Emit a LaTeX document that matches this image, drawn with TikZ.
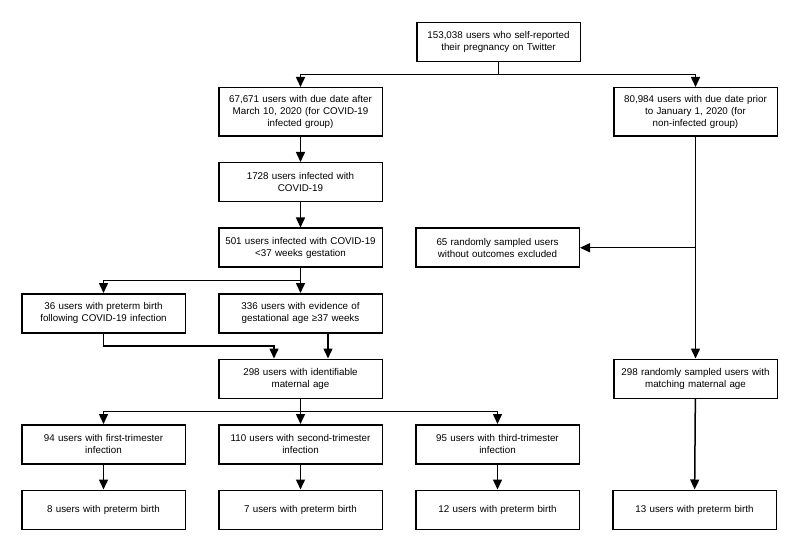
\documentclass[tikz,border=0pt]{standalone}
\usepackage{fontspec}
\setmainfont{Liberation Sans}
\usetikzlibrary{arrows.meta, positioning}

\begin{document}
\begin{tikzpicture}[x=1pt, y=-1pt,
  box/.style={draw, line width=1.5pt, text width=156pt, inner xsep=3.75pt, inner ysep=2pt,
    minimum height=39pt, align=center, font=\fontsize{9.8}{12}\selectfont},
  tallbox/.style={box, minimum height=48.5pt},
  arr/.style={-{Triangle[length=10pt, width=9pt]}, line width=1.5pt}
]
\useasboundingbox (0,0) rectangle (800,553);
\node[box] (twitter) at (498.5,42) {153,038 users who self-reported\\their pregnancy on Twitter};
\node[tallbox] (after) at (300.5,112) {67,671 users with due date after\\March 10, 2020 (for COVID-19\\infected group)};
\node[tallbox, right=230pt of after] (prior) {80,984 users with due date prior\\to January 1, 2020 (for\\non-infected group)};
\node[box, below=25pt of after] (infected) {1728 users infected with\\COVID-19};
\node[box, below=25pt of infected] (early) {501 users infected with COVID-19\\<37 weeks gestation};
\node[box, right=32pt of early] (excluded) {65 randomly sampled users\\without outcomes excluded};
\node[box, below=25pt of early] (term) {336 users with evidence of\\gestational age ≥37 weeks};
\node[box, left=32pt of term] (preterm) {36 users with preterm birth\\following COVID-19 infection};
\node[box, below=25pt of term] (age) {298 users with identifiable\\maternal age};
\node[box, right=230pt of age] (matched) {298 randomly sampled users with\\matching maternal age};
\node[box, below=25pt of age] (second) {110 users with second-trimester\\infection};
\node[box, left=32pt of second] (first) {94 users with first-trimester\\infection};
\node[box, right=32pt of second] (third) {95 users with third-trimester\\infection};
\node[box, below=25pt of first] (birthA) {8 users with preterm birth};
\node[box, below=25pt of second] (birthB) {7 users with preterm birth};
\node[box, below=25pt of third] (birthC) {12 users with preterm birth};
\node[box, right=32pt of birthC] (birthD) {13 users with preterm birth};

\draw[arr] (twitter.south) -- ++(0,12.5) -| (after.north);
\draw[arr] (twitter.south) -- ++(0,12.5) -| (prior.north);
\draw[arr] (after) -- (infected);
\draw[arr] (infected) -- (early);
\draw[arr] (early.south) -- ++(0,12.5) -| (preterm.north);
\draw[arr] (early) -- (term);
\draw[arr] (preterm.south) -- ++(0,12.5) -| ([xshift=-26.5pt]age.north);
\draw[arr] ([xshift=27.5pt]term.south) -- ([xshift=27.5pt]age.north);
\draw[arr] (age.south) -- ++(0,12.5) -| (first.north);
\draw[arr] (age) -- (second);
\draw[arr] (age.south) -- ++(0,12.5) -| (third.north);
\draw[arr] (first) -- (birthA);
\draw[arr] (second) -- (birthB);
\draw[arr] (third) -- (birthC);
\draw[arr] (prior) -- (matched);
\draw[arr] (prior.south |- excluded.east) -- (excluded.east);
\draw[arr] (matched) -- (birthD);
\end{tikzpicture}
\end{document}
